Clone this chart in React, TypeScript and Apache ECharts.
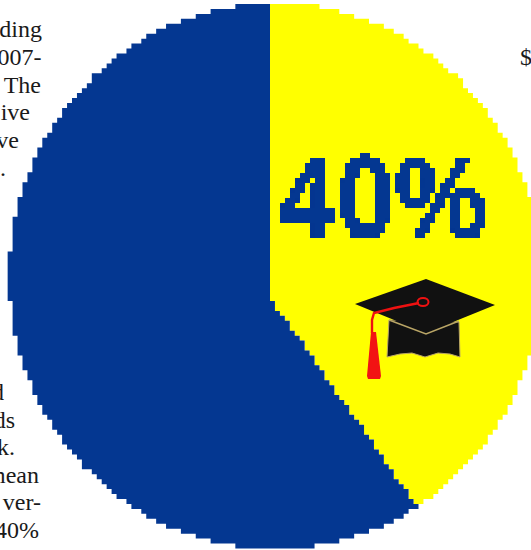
import React, { useEffect, useRef } from "react";
import * as echarts from "echarts";

// Share of each slice, clockwise from twelve o'clock
const sliceNames = ["With degree", "Without degree"];
const sliceShares = [40, 60];
const sliceColors = ["#ffff00", "#043791"];

const headline = "40%";

// Fragments of the article text that wraps around the pie
const upperLines: [string, number][] = [
  ["ding", 42],
  ["007-", 41.5],
  ["The", 41],
  ["ive", 30],
  ["ve", 19],
  [".", 6],
];
const lowerLines: [string, number][] = [
  ["d", 4],
  ["ds", 15],
  ["k.", 15],
  ["mean", 39],
  ["ver-", 41],
  ["40%", 39],
  ["i", 6],
];

// Pie geometry: a slightly tall ellipse whose slices meet off-centre
const CX = 275;
const CY = 276;
const RX = 266;
const RY = 273;
const APEX_X = 270;
const APEX_Y = 297;
const CELL = 4.95;

const snap = (v: number, origin: number) => origin + Math.round((v - origin) / CELL) * CELL;

function rimDistance(theta: number) {
  const ox = (APEX_X - CX) / RX;
  const oy = (APEX_Y - CY) / RY;
  const dx = Math.sin(theta);
  const dy = -Math.cos(theta);
  const b = ox * dx + oy * dy;
  const c = ox * ox + oy * oy - 1;
  return -b + Math.sqrt(b * b - c);
}

function pointAt(theta: number, f: number): [number, number] {
  const t = rimDistance(theta) * f;
  return [APEX_X + Math.sin(theta) * t * RX, APEX_Y - Math.cos(theta) * t * RY];
}

// Outline of one slice on the coarse cell grid, as a staircase
function slicePoints(from: number, to: number) {
  const raw: [number, number][] = [];
  for (let f = 0; f <= 1; f += 0.01) raw.push(pointAt(from, f));
  const steps = Math.ceil((to - from) / 0.003);
  for (let i = 0; i <= steps; i++) raw.push(pointAt(from + ((to - from) * i) / steps, 1));
  for (let f = 1; f >= 0; f -= 0.01) raw.push(pointAt(to, f));

  const out: [number, number][] = [];
  let prev: [number, number] | null = null;
  for (const [x, y] of raw) {
    const q: [number, number] = [snap(x, APEX_X), snap(y, 4)];
    if (prev) {
      if (q[0] === prev[0] && q[1] === prev[1]) continue;
      const upper = prev[1] <= q[1] ? prev : q;
      const lower = prev[1] <= q[1] ? q : prev;
      out.push([upper[0], lower[1]]);
    }
    out.push(q);
    prev = q;
  }
  return out;
}

function bodyText(line: [string, number], baseline: number) {
  return {
    type: "text",
    z: 0,
    x: line[1],
    y: baseline,
    style: {
      text: line[0],
      font: '24px "Liberation Serif"',
      fill: "#1a1a1a",
      textAlign: "right",
      verticalAlign: "bottom",
    },
  };
}

const capElements = [
  {
    type: "polygon",
    z: 11,
    shape: {
      points: [
        [389, 320], [387, 357], [400, 354], [412, 353], [425, 357],
        [438, 353], [450, 354], [460, 357], [459, 322],
      ],
    },
    style: { fill: "#111111", stroke: "#b9a566", lineWidth: 1 },
  },
  {
    type: "polygon",
    z: 12,
    shape: { points: [[355, 304], [426, 279], [495, 305], [426, 333]] },
    style: { fill: "#111111" },
  },
  {
    type: "polyline",
    z: 13,
    shape: { points: [[389, 320], [426, 334], [459, 321]] },
    style: { stroke: "#b9a566", lineWidth: 1.6, fill: "none" },
  },
  {
    type: "polyline",
    z: 14,
    shape: { points: [[419, 303], [394, 308], [374, 313], [372, 320], [372, 333]] },
    style: { stroke: "#ee1111", lineWidth: 2.4, fill: "none" },
  },
  {
    type: "ellipse",
    z: 14,
    shape: { cx: 423, cy: 302, rx: 5.5, ry: 4 },
    style: { stroke: "#ee1111", lineWidth: 2, fill: "none" },
  },
  {
    type: "polygon",
    z: 14,
    shape: { points: [[371, 332], [376, 332], [381, 376], [380, 379], [368, 379], [367, 376]] },
    style: { fill: "#f21313" },
  },
];

export default function App() {
  const ref = useRef<HTMLDivElement>(null);

  useEffect(() => {
    document.body.style.margin = "0";
    const chart = echarts.init(ref.current!, undefined, { renderer: "svg" });
    const total = sliceShares.reduce((a, b) => a + b, 0);
    const starts = sliceShares.map((_, i) => sliceShares.slice(0, i).reduce((a, b) => a + b, 0));

    chart.setOption({
      animation: false,
      backgroundColor: "#ffffff",
      series: [
        {
          type: "custom",
          coordinateSystem: "none",
          silent: true,
          data: sliceShares.map((v, i) => ({ name: sliceNames[i], value: [v, starts[i]] })),
          renderItem: (params: any, api: any) => {
            const share = api.value(0);
            const start = api.value(1);
            const from = (start / total) * Math.PI * 2;
            const to = ((start + share) / total) * Math.PI * 2;
            return {
              type: "polygon",
              shape: { points: slicePoints(from, to) },
              style: { fill: sliceColors[params.dataIndex] },
            };
          },
        },
      ],
      graphic: [
        ...upperLines.map((l, i) => bodyText(l, 41 + i * 27.8)),
        ...lowerLines.map((l, i) => bodyText(l, 404 + i * 27.6)),
        {
          type: "text",
          z: 0,
          x: 520,
          y: 69,
          style: { text: "$", font: '24px "Liberation Serif"', fill: "#1a1a1a", verticalAlign: "bottom" },
        },
        {
          type: "text",
          z: 10,
          x: 279,
          y: 256,
          scaleY: 1.12,
          style: {
            text: headline,
            font: 'bold 104px "Liberation Sans"',
            fill: sliceColors[1],
            stroke: sliceColors[1],
            lineWidth: 1.2,
            verticalAlign: "bottom",
          },
        },
        ...capElements,
      ],
    });

    // The headline sits on the same coarse cell grid as the pie outline
    const svg = ref.current!.querySelector("svg");
    const node = svg
      ? Array.from(svg.querySelectorAll("text")).find(
          (t) => t.textContent === headline && (t.getAttribute("style") || "").includes("bold")
        )
      : null;
    if (node && node.parentNode) {
      const wrap = document.createElementNS("http://www.w3.org/2000/svg", "g");
      wrap.setAttribute("filter", "url(#cell-grid)");
      node.parentNode.insertBefore(wrap, node);
      wrap.appendChild(node);
    }

    return () => chart.dispose();
  }, []);

  return (
    <div style={{ position: "relative", width: 531, height: 550, overflow: "hidden" }}>
      <svg width="0" height="0" style={{ position: "absolute" }}>
        <filter
          id="cell-grid"
          x="0"
          y="3"
          width="531"
          height="545"
          filterUnits="userSpaceOnUse"
          primitiveUnits="userSpaceOnUse"
          colorInterpolationFilters="sRGB"
        >
          <feFlood x="2" y="5" width="1" height="1" floodColor="#000" />
          <feComposite x="0" y="3" width="5" height="5" />
          <feTile result="cells" />
          <feComposite in="SourceGraphic" in2="cells" operator="in" />
          <feMorphology operator="dilate" radius="2" />
          <feComponentTransfer>
            <feFuncA type="discrete" tableValues="0 1" />
          </feComponentTransfer>
        </filter>
      </svg>
      <div ref={ref} style={{ width: 531, height: 550 }} />
    </div>
  );
}
